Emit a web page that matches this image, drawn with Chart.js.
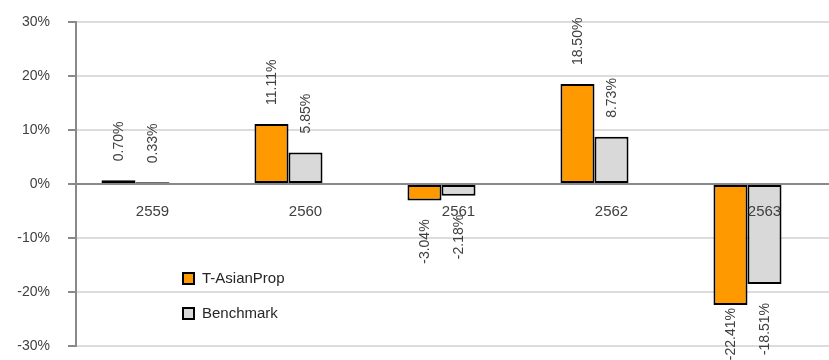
<!DOCTYPE html>
<html>
<head>
<meta charset="utf-8">
<script src="https://cdn.jsdelivr.net/npm/chart.js@4/dist/chart.umd.min.js"></script>
<style>
  html, body { margin: 0; padding: 0; background: #fff; overflow: hidden; }
  #wrap { width: 829px; height: 360px; overflow: hidden; }
</style>
</head>
<body>
<div id="wrap"><canvas id="chart" width="845" height="360"></canvas></div>
<script>
const years = ['2559', '2560', '2561', '2562', '2563']
const fundReturns = [0.70, 11.11, -3.04, 18.50, -22.41]
const benchmarkReturns = [0.33, 5.85, -2.18, 8.73, -18.51]
const yTicks = [-30, -20, -10, 0, 10, 20, 30]

const fundName = 'T-AsianProp'
const benchName = 'Benchmark'

Chart.defaults.font.family = "'Liberation Sans', Arial, sans-serif"
Chart.defaults.color = '#404040'

// rotated value labels over / under each bar
const valueLabels = {
    id: 'valueLabels',
    afterDatasetsDraw(chart) {
        const ctx = chart.ctx
        ctx.save()
        ctx.font = "14px 'Liberation Sans', Arial, sans-serif"
        ctx.fillStyle = '#404040'
        ctx.textBaseline = 'middle'
        for (let d = 0; d < 2; d++) {
            const meta = chart.getDatasetMeta(d)
            const values = chart.data.datasets[d].data
            meta.data.forEach((bar, i) => {
                const v = values[i]
                if (v == null) return
                const text = v.toFixed(2) + '%'
                let gap = 19
                if (d === 0 && i === 4) gap = 3
                ctx.save()
                if (v >= 0) {
                    ctx.translate(bar.x, bar.y - gap)
                    ctx.rotate(-Math.PI / 2)
                    ctx.textAlign = 'left'
                } else {
                    ctx.translate(bar.x, bar.y + gap)
                    ctx.rotate(-Math.PI / 2)
                    ctx.textAlign = 'right'
                }
                ctx.fillText(text, 0, 1)
                ctx.restore()
            })
        }
        ctx.restore()
    }
}

// legend sits inside the plot, lower left
const insideLegend = {
    id: 'insideLegend',
    afterDraw(chart) {
        const ctx = chart.ctx
        const items = chart.data.datasets.slice(0, 2)
        ctx.save()
        ctx.font = "15px 'Liberation Sans', Arial, sans-serif"
        ctx.textBaseline = 'middle'
        ctx.textAlign = 'left'
        items.forEach((ds, i) => {
            const y = 278.5 + i * 35
            ctx.fillStyle = ds.backgroundColor
            ctx.fillRect(183, y - 5.5, 11, 11)
            ctx.strokeStyle = '#000'
            ctx.lineWidth = 2
            ctx.strokeRect(183, y - 5.5, 11, 11)
            ctx.fillStyle = '#262626'
            ctx.fillText(ds.label, 202, y + 0.5)
        })
        ctx.restore()
    }
}

const ctx = document.getElementById('chart').getContext('2d')
const myChart = new Chart(ctx, {
    type: 'bar',
    data: {
        labels: years,
        datasets: [{
            label: fundName,
            data: fundReturns,
            backgroundColor: '#FF9900',
            borderColor: '#000',
            borderWidth: 2,
            borderSkipped: false
        }, {
            label: benchName,
            data: benchmarkReturns,
            backgroundColor: '#D9D9D9',
            borderColor: '#000',
            borderWidth: 2,
            borderSkipped: false
        }, {
            // empty third slot keeps the pair left of the year label
            label: '',
            data: years.map(() => null),
            backgroundColor: 'rgba(0,0,0,0)'
        }]
    },
    options: {
        responsive: false,
        animation: false,
        layout: {
            padding: { left: 0, top: 22, bottom: 14, right: 4 }
        },
        datasets: {
            bar: {
                categoryPercentage: 0.667,
                barPercentage: 1
            }
        },
        scales: {
            x: {
                position: { y: 0 },
                afterFit(scale) {
                    scale.height = 0
                    scale.paddingLeft = 0
                    scale.paddingRight = 0
                },
                grid: { display: false, drawTicks: false },
                border: { color: '#898989', width: 2, z: 1 },
                ticks: {
                    z: 1,
                    padding: 19,
                    maxRotation: 0,
                    autoSkip: false,
                    color: '#404040',
                    font: { size: 15 }
                }
            },
            y: {
                min: -30,
                max: 30,
                afterFit(scale) {
                    scale.width = 76
                    scale.paddingTop = 0
                    scale.paddingBottom = 0
                },
                afterBuildTicks(scale) {
                    scale.ticks = yTicks.map(v => ({ value: v }))
                },
                grid: {
                    color: '#DCDCDC',
                    lineWidth: 2,
                    tickColor: '#898989',
                    tickLength: 8
                },
                border: { color: '#898989', width: 2 },
                ticks: {
                    padding: 18,
                    color: '#404040',
                    font: { size: 14 },
                    callback: function (value) {
                        return value + '%'
                    }
                }
            }
        },
        plugins: {
            legend: { display: false },
            tooltip: { enabled: false }
        }
    },
    plugins: [valueLabels, insideLegend]
})
</script>
</body>
</html>
